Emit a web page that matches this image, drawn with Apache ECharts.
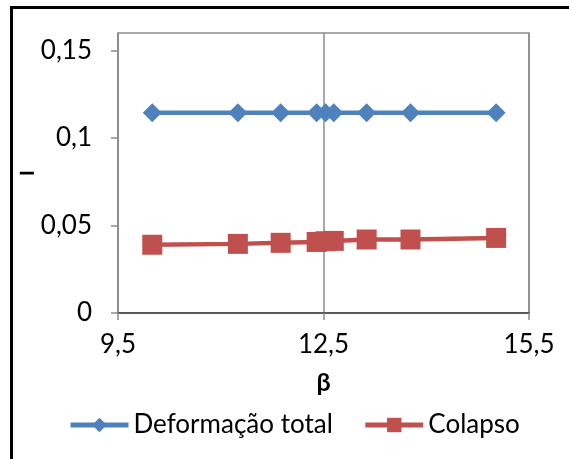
<!DOCTYPE html>
<html>
<head>
<meta charset="utf-8">
<script src="https://cdn.jsdelivr.net/npm/echarts@6/dist/echarts.min.js"></script>
<style>
  html, body { margin: 0; padding: 0; background: #fff; }
  #wrap { position: relative; width: 569px; height: 459px; overflow: hidden; }
  #frame { position: absolute; left: 10px; top: 6px; width: 620px; height: 520px; border: 3px solid #000; }
  #chart { position: absolute; left: 0; top: 0; width: 569px; height: 459px; }
</style>
</head>
<body>
<div id="wrap">
  <div id="frame"></div>
  <div id="chart"></div>
</div>
<script>
// valores
const betaValues = [10.0, 11.25, 11.875, 12.4, 12.53, 12.65, 13.13, 13.77, 15.02]
const deformacaoTotal = [0.1144, 0.1144, 0.1144, 0.1144, 0.1144, 0.1144, 0.1144, 0.1144, 0.1144]
const colapso = [0.039, 0.0395, 0.0401, 0.0406, 0.041, 0.0412, 0.042, 0.042, 0.0429]
const seriesNames = ['Deformação total', 'Colapso']

const font = 'Lato, "Open Sans", sans-serif'
const comma = (v) => String(+v.toFixed(4)).replace('.', ',')
const pairs = (ys) => betaValues.map((x, i) => [x, ys[i]])

const chart = echarts.init(document.getElementById('chart'))
chart.setOption({
  animation: false,
  textStyle: { fontFamily: font },
  grid: {
    left: 118,
    right: 40,
    top: 33,
    bottom: 146,
    show: true,
    borderColor: '#8c8c8c',
    borderWidth: 1.5
  },
  legend: {
    top: 407,
    left: 63,
    itemWidth: 58,
    itemHeight: 18,
    itemGap: 30,
    lineStyle: { width: 5 },
    textStyle: { fontFamily: font, fontSize: 26, color: '#000' },
    data: seriesNames
  },
  xAxis: {
    type: 'value',
    min: 9.5,
    max: 15.5,
    interval: 3,
    name: 'β',
    nameLocation: 'middle',
    nameGap: 57,
    nameTextStyle: { fontFamily: font, fontSize: 25, fontWeight: 'bold', color: '#000' },
    axisLine: { onZero: false, lineStyle: { color: '#5a5a5a', width: 2 } },
    axisTick: { show: true, length: 7, lineStyle: { color: '#8c8c8c', width: 1.5 } },
    axisLabel: { margin: 19, fontSize: 26, color: '#000', formatter: comma },
    splitLine: { show: true, lineStyle: { color: '#8c8c8c', width: 1.5 } }
  },
  yAxis: {
    type: 'value',
    min: 0,
    max: 0.16,
    interval: 0.05,
    name: '—',
    nameLocation: 'middle',
    nameRotate: 0,
    nameGap: 83,
    nameTextStyle: {
      fontFamily: font,
      fontSize: 19,
      fontWeight: 'bold',
      color: '#000',
      textBorderColor: '#000',
      textBorderWidth: 1.2,
      padding: [0, 0, 6, 0]
    },
    axisLine: { show: true, lineStyle: { color: '#8c8c8c', width: 1.5 } },
    axisTick: { show: true, length: 7, lineStyle: { color: '#8c8c8c', width: 1.5 } },
    axisLabel: { margin: 26, fontSize: 26, color: '#000', showMaxLabel: false, formatter: comma },
    splitLine: { show: false }
  },
  series: [
    {
      name: seriesNames[0],
      type: 'line',
      data: pairs(deformacaoTotal),
      symbol: 'diamond',
      symbolSize: 19,
      lineStyle: { color: '#4f81bd', width: 4.5 },
      itemStyle: { color: '#4f81bd' }
    },
    {
      name: seriesNames[1],
      type: 'line',
      data: pairs(colapso),
      symbol: 'rect',
      symbolSize: 20,
      lineStyle: { color: '#c0504d', width: 4.5 },
      itemStyle: { color: '#c0504d' }
    }
  ]
})
</script>
</body>
</html>
